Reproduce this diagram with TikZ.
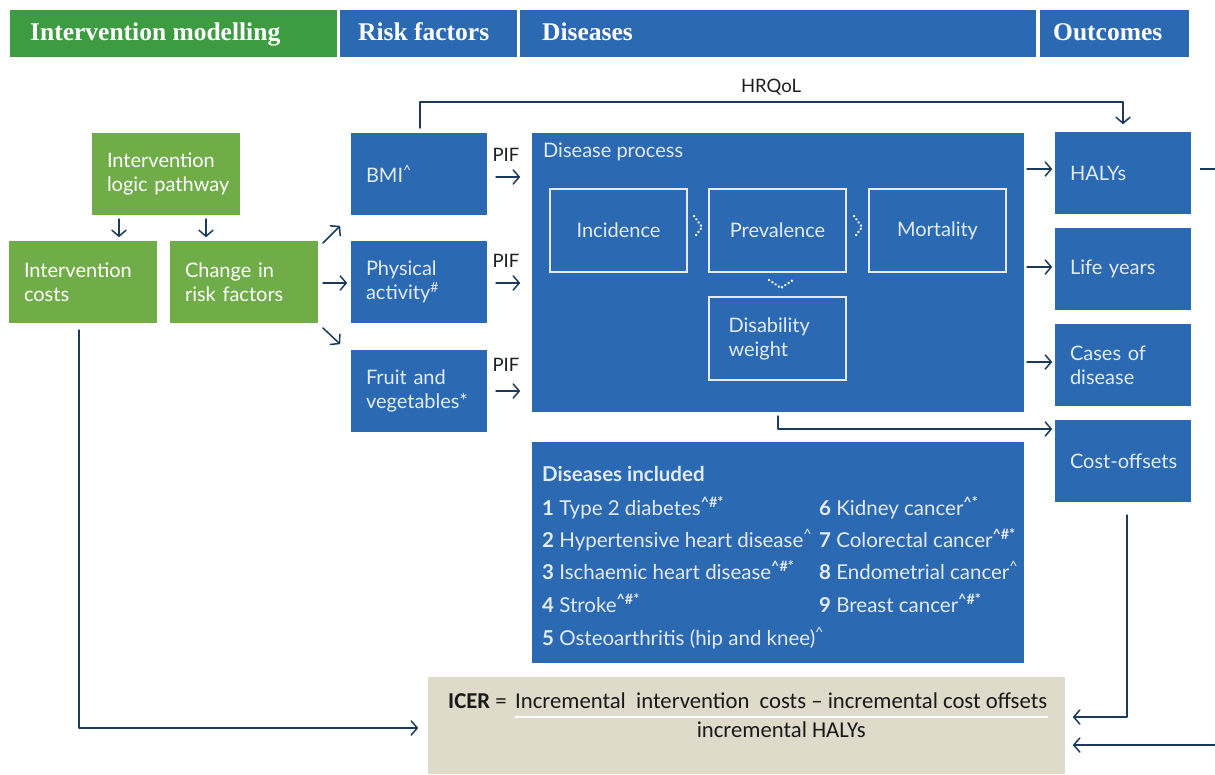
\documentclass[tikz,border=0pt]{standalone}
\usepackage{fontspec}
\setmainfont{Lato}
\newfontfamily\hdrfnt{Liberation Serif}
\newfontfamily\icerfnt{Carlito}
\usetikzlibrary{arrows.meta,calc}
\definecolor{hdrgreen}{HTML}{3D9B41}
\definecolor{boxgreen}{HTML}{70AC48}
\definecolor{myblue}{HTML}{2B69B3}
\definecolor{beige}{HTML}{DFDBCB}
\definecolor{arrowc}{HTML}{1B3A5C}
\definecolor{txtlight}{HTML}{E4EBF5}
\newcommand\bdyfnt{\fontsize{20}{24}\selectfont}
\newcommand\lstfnt{\fontsize{20.5}{24}\selectfont}
\newcommand\smlfnt{\fontsize{18.5}{22}\selectfont}
\newcommand\icfnt{\icerfnt\fontsize{22.7}{26}\selectfont}
\begin{document}
\begin{tikzpicture}[x=1pt,y=-1pt,
  arr/.style={draw=arrowc, line width=1.5pt, line cap=round, line join=round, -{Straight Barb[length=6pt,width=14pt,round]}},
  ln/.style={draw=arrowc, line width=1.5pt},
  hdr/.style={anchor=north west, inner sep=0pt, outer sep=0pt, minimum height=47pt},
  hdrtxt/.style={anchor=base west, inner sep=0pt, text=white, font=\hdrfnt\bfseries\fontsize{25.5}{30}\selectfont},
  gbox/.style={fill=boxgreen, text=white, anchor=north west, inner xsep=15pt, inner ysep=0pt, outer sep=0pt, text width=118pt, minimum height=82pt, align=left, font=\bdyfnt},
  bbox/.style={fill=myblue, text=txtlight, anchor=north west, inner xsep=15pt, inner ysep=0pt, outer sep=0pt, text width=106pt, minimum height=82pt, align=left, font=\bdyfnt},
  ibox/.style={draw=txtlight, line width=1.2pt, text=txtlight, anchor=north west, inner sep=0pt, outer sep=0pt, minimum width=137pt, minimum height=83pt, align=center, font=\bdyfnt},
  lbl/.style={anchor=base west, inner sep=0pt, font=\bdyfnt, text=txtlight},
  lst/.style={anchor=base west, inner sep=0pt, font=\lstfnt, text=txtlight},
  blk/.style={anchor=base, inner sep=0pt, font=\smlfnt, text=black!88},
  chev/.style={draw=white, line width=2.4pt, dash pattern=on 0.3pt off 3.6pt, line cap=round},
  ictxt/.style={inner sep=0pt, font=\icfnt, text=black!90}
]
\useasboundingbox (0,0) rectangle (1215,774);
\fill[white] (0,0) rectangle (1215,774);

% headers
\node[hdr, fill=hdrgreen, minimum width=327pt] (h1) at (10,10) {};
\node[hdr, fill=myblue, minimum width=177pt] (h2) at (340,10) {};
\node[hdr, fill=myblue, minimum width=516pt] (h3) at (520,10) {};
\node[hdr, fill=myblue, minimum width=149pt] (h4) at (1040,10) {};
\node[hdrtxt] (t1) at (30,40) {Intervention modelling};
\node[hdrtxt] (t2) at (358,40) {Risk factors};
\node[hdrtxt] (t3) at (542,40) {Diseases};
\node[hdrtxt] (t4) at (1053,40) {Outcomes};

% green boxes
\node[gbox] (ilp) at (92,133) {Intervention\\\mbox{logic pathway}};
\node[gbox] (ic) at (9,241) {Intervention\\costs};
\node[gbox] (crf) at (170,241) {Change in\\risk factors};

% risk factor boxes
\node[bbox] (bmi) at (351,133) {BMI\textsuperscript{\textasciicircum}};
\node[bbox] (pa) at (351,241) {Physical\\activity\textsuperscript{\#}};
\node[bbox] (fv) at (351,350) {Fruit and\\vegetables*};

% disease process
\node[fill=myblue, anchor=north west, inner sep=0pt, outer sep=0pt, minimum width=492pt, minimum height=279pt] (dp) at (532,133) {};
\node[lbl] (dpl) at (543,157) {Disease process};
\node[ibox] (inc) at (550,189) {Incidence};
\node[ibox] (prev) at (709,189) {Prevalence};
\node[ibox] (mort) at (869,189) {Mortality};
\node[ibox, text width=98pt, inner xsep=19pt, align=left] (dw) at (709,297) {Disability\\weight};
\draw[chev] (694,216) -- (702,227) -- (694,238);
\draw[chev] (854,216) -- (862,227) -- (854,238);
\draw[chev] (769,280) -- (781,288) -- (793,280);

% outcomes
\node[bbox] (hal) at (1055,132) {HALYs};
\node[bbox] (ly) at (1055,228) {Life years};
\node[bbox] (cod) at (1055,324) {Cases of\\disease};
\node[bbox] (co) at (1055,420) {\mbox{Cost-offsets}};

% diseases included
\node[fill=myblue, anchor=north west, inner sep=0pt, outer sep=0pt, minimum width=492pt, minimum height=221pt] (di) at (532,442) {};
\node[lst, font=\lstfnt\bfseries] (dih) at (542,481) {Diseases included};
\node[lst] (d1) at (542,515) {\textbf{1} Type 2 diabetes\textsuperscript{\textbf{\textasciicircum\#*}}};
\node[lst] (d2) at (542,547) {\textbf{2} Hypertensive heart disease\textsuperscript{\textasciicircum}};
\node[lst] (d3) at (542,579) {\textbf{3} Ischaemic heart disease\textsuperscript{\textbf{\textasciicircum\#*}}};
\node[lst] (d4) at (542,612) {\textbf{4} Stroke\textsuperscript{\textbf{\textasciicircum\#*}}};
\node[lst] (d5) at (542,645) {\textbf{5} Osteoarthritis (hip and knee)\textsuperscript{\textasciicircum}};
\node[lst] (d6) at (819,515) {\textbf{6} Kidney cancer\textsuperscript{\textbf{\textasciicircum*}}};
\node[lst] (d7) at (819,547) {\textbf{7} Colorectal cancer\textsuperscript{\textbf{\textasciicircum\#*}}};
\node[lst] (d8) at (819,579) {\textbf{8} Endometrial cancer\textsuperscript{\textasciicircum}};
\node[lst] (d9) at (819,612) {\textbf{9} Breast cancer\textsuperscript{\textbf{\textasciicircum\#*}}};

% ICER
\node[fill=beige, anchor=north west, inner sep=0pt, outer sep=0pt, minimum width=637pt, minimum height=97pt] (icer) at (428,677) {};
\node[ictxt, anchor=base west] (icl) at (448,708) {\textbf{ICER} =};
\node[ictxt, anchor=base west] (num) at (515,708) {Incremental\ \ intervention\ \ costs \textendash{} incremental cost offsets};
\draw[white, line width=1.5pt] ($(num.base west)+(0,9)$) -- ($(num.base east)+(0,9)$);
\node[ictxt, anchor=base] (den) at ($(num.base)+(0,29)$) {incremental HALYs};

% labels
\node[blk] (pif1) at (506,161) {PIF};
\node[blk] (pif2) at (506,267) {PIF};
\node[blk] (pif3) at (506,371) {PIF};
\node[blk] (hrq) at (771,92) {HRQoL};

% connectors
\draw[arr] ($(ilp.south west)+(27,4)$) -- ++(0,18);
\draw[arr] ($(ilp.south west)+(114,4)$) -- ++(0,18);
\draw[arr] ($(crf.east)+(5,1)$) -- ($(pa.west)+(-4,1)$);
\draw[arr] ($(crf.north east)+(5,2)$) -- ++(17,-17);
\draw[arr] ($(crf.south east)+(5,5)$) -- ++(17,16);
\draw[arr] ($(bmi.east)+(9,3)$) -- ++(24,0);
\draw[arr] ($(pa.east)+(9,1)$) -- ++(24,0);
\draw[arr] ($(fv.east)+(9,0)$) -- ++(24,0);
\draw[arr] ($(hal.west)+(-28,-4)$) -- ($(hal.west)+(-3,-4)$);
\draw[arr] ($(ly.west)+(-28,-2)$) -- ($(ly.west)+(-3,-2)$);
\draw[arr] ($(cod.west)+(-28,-3)$) -- ($(cod.west)+(-3,-3)$);
\draw[arr] ($(dp.south west)+(246,4)$) |- ($(co.west)+(-3,-32)$);
\draw[arr] ($(bmi.north west)+(69,-5)$) -- ++(0,-26) -| ($(hal.north)+(0,-8)$);
\coordinate (redge1) at (1215,169);
\draw[ln] ($(hal.east)+(9,-4)$) -- (redge1);
\draw[arr] ($(co.south)+(4,13)$) |- ($(icer.north east)+(8,40)$);
\coordinate (redge2) at (1215,745);
\draw[arr] (redge2) -- ($(icer.north east)+(8,68)$);
\draw[arr] ($(ic.south west)+(70,7)$) |- ($(icer.north west)+(-10,51)$);
\end{tikzpicture}
\end{document}
